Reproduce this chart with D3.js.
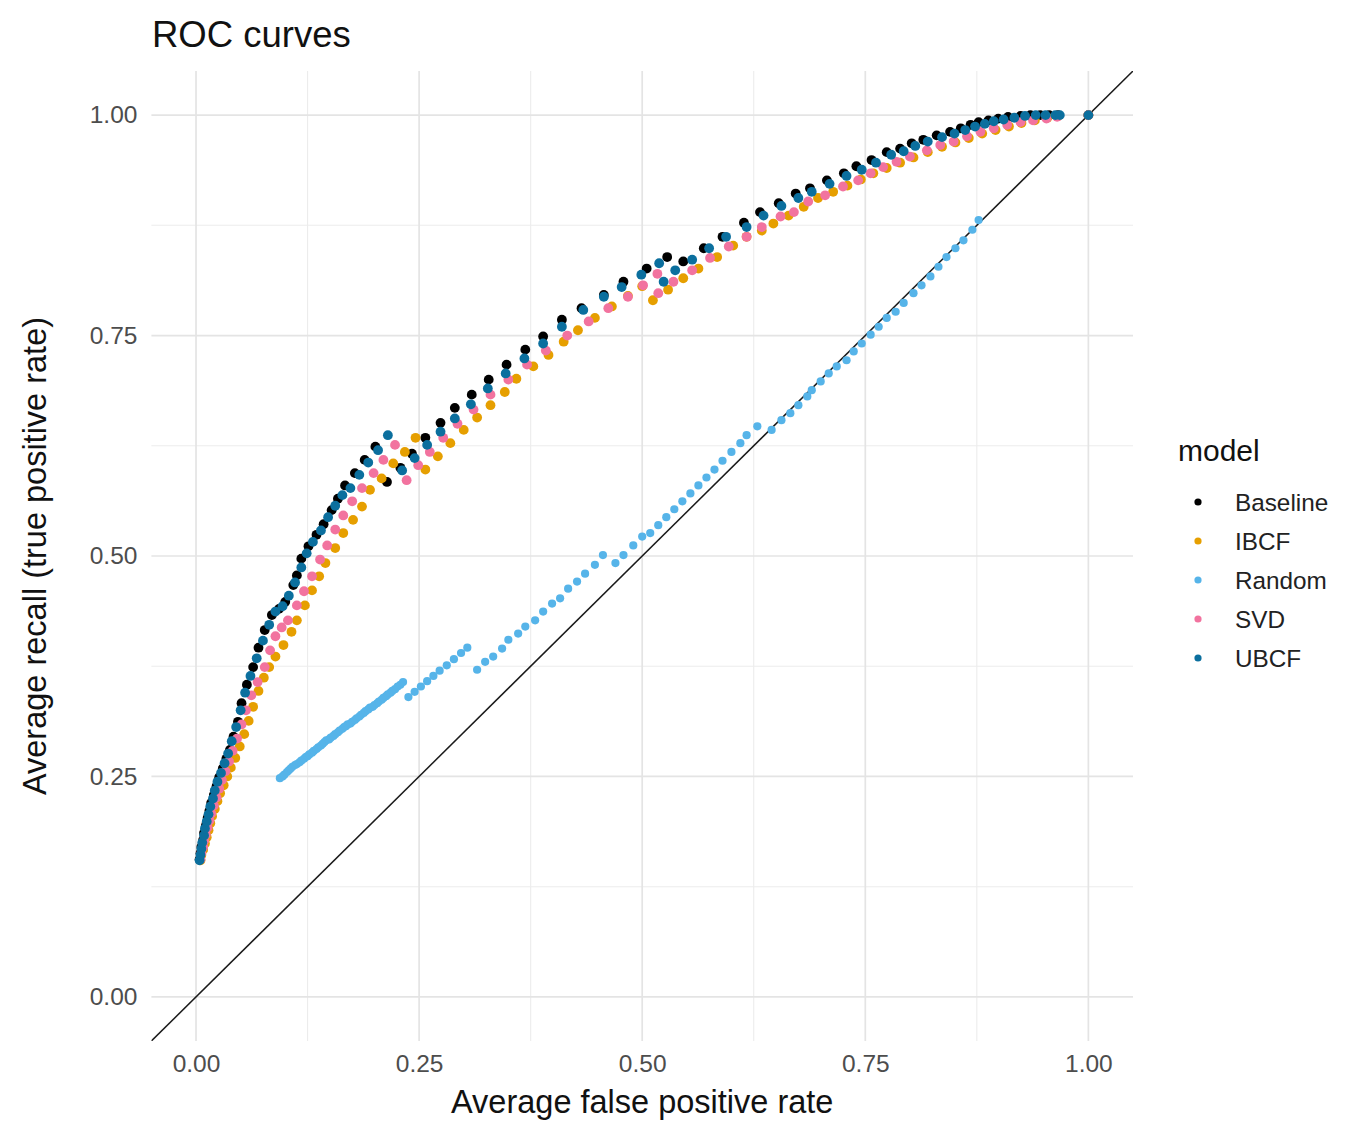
<!DOCTYPE html>
<html>
<head>
<meta charset="utf-8">
<script src="https://cdn.jsdelivr.net/npm/d3@7"></script>
<style>
  body { margin: 0; background: #fff; }
  text { font-family: "Liberation Sans", Arial, sans-serif; }
</style>
</head>
<body>
<div id="chart"></div>
<script>
// Data
//= ================================
var models = ["Baseline", "IBCF", "Random", "SVD", "UBCF"];

var baselineFpr = [0.004, 0.005, 0.006, 0.008, 0.009, 0.011, 0.013, 0.015, 0.017, 0.020, 0.023, 0.026, 0.030, 0.034, 0.038, 0.042, 0.047, 0.051, 0.057, 0.064, 0.070, 0.077, 0.085, 0.093, 0.100, 0.109, 0.113, 0.118, 0.126, 0.135, 0.143, 0.152, 0.159, 0.167, 0.178, 0.189, 0.201, 0.214, 0.229, 0.242, 0.257, 0.274, 0.290, 0.309, 0.328, 0.348, 0.369, 0.389, 0.410, 0.432, 0.457, 0.479, 0.505, 0.528, 0.546, 0.569, 0.590, 0.614, 0.632, 0.653, 0.672, 0.688, 0.707, 0.726, 0.740, 0.757, 0.774, 0.789, 0.802, 0.815, 0.830, 0.845, 0.857, 0.868, 0.877, 0.888, 0.899, 0.910, 0.924, 0.935, 0.946, 0.956, 0.966, 1.000];
var baselineTpr = [0.156, 0.163, 0.170, 0.178, 0.186, 0.194, 0.203, 0.211, 0.220, 0.229, 0.239, 0.249, 0.259, 0.270, 0.280, 0.295, 0.312, 0.333, 0.354, 0.374, 0.396, 0.416, 0.433, 0.440, 0.448, 0.467, 0.478, 0.497, 0.511, 0.524, 0.536, 0.552, 0.565, 0.580, 0.594, 0.609, 0.624, 0.584, 0.600, 0.616, 0.634, 0.651, 0.668, 0.683, 0.700, 0.717, 0.734, 0.749, 0.768, 0.781, 0.796, 0.811, 0.826, 0.839, 0.834, 0.849, 0.862, 0.878, 0.890, 0.900, 0.911, 0.917, 0.926, 0.934, 0.942, 0.949, 0.958, 0.962, 0.968, 0.972, 0.977, 0.981, 0.985, 0.989, 0.992, 0.994, 0.996, 0.998, 0.999, 1.000, 1.000, 1.000, 1.000, 1.000];

var ibcfFpr = [0.005, 0.006, 0.008, 0.010, 0.012, 0.014, 0.016, 0.018, 0.021, 0.024, 0.027, 0.031, 0.035, 0.039, 0.044, 0.049, 0.054, 0.059, 0.064, 0.070, 0.076, 0.082, 0.089, 0.098, 0.107, 0.113, 0.122, 0.130, 0.138, 0.145, 0.156, 0.165, 0.176, 0.186, 0.195, 0.208, 0.221, 0.234, 0.246, 0.257, 0.271, 0.285, 0.300, 0.315, 0.330, 0.346, 0.359, 0.378, 0.395, 0.412, 0.428, 0.447, 0.466, 0.484, 0.500, 0.512, 0.529, 0.546, 0.563, 0.584, 0.602, 0.617, 0.634, 0.647, 0.664, 0.681, 0.697, 0.714, 0.730, 0.745, 0.759, 0.774, 0.789, 0.804, 0.820, 0.836, 0.851, 0.866, 0.881, 0.896, 0.911, 0.925, 0.940, 0.954, 0.966, 1.000];
var ibcfTpr = [0.155, 0.161, 0.167, 0.174, 0.181, 0.189, 0.197, 0.205, 0.213, 0.222, 0.231, 0.240, 0.250, 0.260, 0.271, 0.284, 0.298, 0.313, 0.329, 0.347, 0.362, 0.374, 0.386, 0.399, 0.414, 0.427, 0.444, 0.461, 0.477, 0.492, 0.509, 0.526, 0.541, 0.556, 0.575, 0.588, 0.605, 0.618, 0.634, 0.598, 0.613, 0.628, 0.643, 0.657, 0.671, 0.686, 0.701, 0.715, 0.728, 0.743, 0.756, 0.770, 0.783, 0.795, 0.806, 0.790, 0.802, 0.815, 0.826, 0.839, 0.852, 0.862, 0.869, 0.877, 0.886, 0.896, 0.906, 0.913, 0.920, 0.927, 0.934, 0.940, 0.946, 0.952, 0.958, 0.964, 0.969, 0.974, 0.979, 0.983, 0.987, 0.991, 0.994, 0.997, 0.999, 1.000];

var randomFpr = [0.094, 0.097, 0.099, 0.102, 0.104, 0.106, 0.108, 0.111, 0.113, 0.116, 0.118, 0.121, 0.123, 0.125, 0.127, 0.130, 0.132, 0.135, 0.137, 0.140, 0.142, 0.144, 0.146, 0.149, 0.151, 0.154, 0.156, 0.159, 0.161, 0.164, 0.166, 0.168, 0.170, 0.173, 0.175, 0.178, 0.180, 0.183, 0.185, 0.188, 0.190, 0.193, 0.195, 0.198, 0.200, 0.203, 0.205, 0.208, 0.210, 0.213, 0.215, 0.218, 0.220, 0.223, 0.226, 0.229, 0.232,
  0.238, 0.245, 0.252, 0.259, 0.266, 0.273, 0.281, 0.289, 0.297, 0.304,
  0.315, 0.324, 0.333, 0.343, 0.350, 0.361, 0.369, 0.380, 0.389, 0.399, 0.408, 0.417, 0.427, 0.436, 0.447, 0.456,
  0.470, 0.479, 0.490, 0.500, 0.509, 0.518, 0.527, 0.536, 0.545, 0.554, 0.563, 0.572, 0.581, 0.590, 0.600, 0.610, 0.617, 0.629,
  0.645, 0.656, 0.666, 0.675, 0.685, 0.690, 0.700, 0.709, 0.718, 0.729, 0.737, 0.746, 0.756, 0.765, 0.774, 0.784, 0.793, 0.804, 0.813, 0.823, 0.832, 0.841, 0.851, 0.860, 0.870, 0.877];
var randomTpr = [0.248, 0.250, 0.252, 0.255, 0.257, 0.259, 0.261, 0.263, 0.264, 0.266, 0.268, 0.270, 0.272, 0.273, 0.275, 0.277, 0.279, 0.281, 0.283, 0.285, 0.287, 0.289, 0.291, 0.292, 0.294, 0.296, 0.298, 0.300, 0.302, 0.304, 0.306, 0.307, 0.309, 0.310, 0.312, 0.314, 0.316, 0.318, 0.320, 0.322, 0.324, 0.326, 0.328, 0.329, 0.331, 0.333, 0.335, 0.337, 0.339, 0.341, 0.343, 0.345, 0.347, 0.349, 0.352, 0.354, 0.357,
  0.340, 0.346, 0.352, 0.358, 0.364, 0.370, 0.376, 0.383, 0.390, 0.396,
  0.371, 0.380, 0.386, 0.395, 0.405, 0.412, 0.420, 0.427, 0.437, 0.446, 0.452, 0.463, 0.471, 0.480, 0.490, 0.501,
  0.492, 0.501, 0.512, 0.522, 0.526, 0.535, 0.544, 0.553, 0.562, 0.571, 0.580, 0.589, 0.598, 0.608, 0.618, 0.628, 0.637, 0.647,
  0.643, 0.654, 0.662, 0.671, 0.681, 0.688, 0.698, 0.707, 0.715, 0.722, 0.732, 0.741, 0.751, 0.760, 0.770, 0.777, 0.787, 0.798, 0.807, 0.817, 0.828, 0.839, 0.849, 0.858, 0.870, 0.881];

var svdFpr = [0.005, 0.006, 0.008, 0.009, 0.011, 0.013, 0.015, 0.017, 0.020, 0.023, 0.026, 0.029, 0.033, 0.037, 0.041, 0.046, 0.051, 0.056, 0.062, 0.069, 0.077, 0.083, 0.089, 0.096, 0.103, 0.113, 0.121, 0.130, 0.139, 0.147, 0.156, 0.165, 0.175, 0.186, 0.199, 0.210, 0.223, 0.236, 0.249, 0.262, 0.277, 0.293, 0.311, 0.330, 0.350, 0.371, 0.392, 0.416, 0.440, 0.462, 0.484, 0.501, 0.517, 0.518, 0.535, 0.556, 0.576, 0.597, 0.617, 0.634, 0.655, 0.670, 0.686, 0.705, 0.725, 0.742, 0.756, 0.770, 0.785, 0.800, 0.819, 0.834, 0.849, 0.864, 0.879, 0.894, 0.909, 0.924, 0.938, 0.953, 0.965, 1.000];
var svdTpr = [0.156, 0.163, 0.170, 0.177, 0.184, 0.192, 0.200, 0.208, 0.217, 0.226, 0.236, 0.246, 0.256, 0.267, 0.279, 0.293, 0.309, 0.325, 0.342, 0.357, 0.374, 0.393, 0.409, 0.419, 0.427, 0.444, 0.460, 0.477, 0.496, 0.512, 0.530, 0.546, 0.562, 0.577, 0.594, 0.609, 0.626, 0.586, 0.603, 0.618, 0.634, 0.650, 0.666, 0.683, 0.700, 0.717, 0.733, 0.750, 0.766, 0.781, 0.794, 0.807, 0.820, 0.798, 0.811, 0.824, 0.838, 0.851, 0.862, 0.873, 0.885, 0.890, 0.902, 0.909, 0.919, 0.926, 0.934, 0.941, 0.947, 0.953, 0.960, 0.966, 0.970, 0.976, 0.981, 0.985, 0.989, 0.992, 0.994, 0.996, 0.998, 1.000];

var ubcfFpr = [0.004, 0.005, 0.006, 0.007, 0.009, 0.010, 0.012, 0.014, 0.016, 0.019, 0.021, 0.024, 0.028, 0.032, 0.036, 0.040, 0.045, 0.050, 0.055, 0.061, 0.068, 0.075, 0.082, 0.089, 0.097, 0.104, 0.111, 0.118, 0.124, 0.131, 0.140, 0.148, 0.156, 0.164, 0.173, 0.183, 0.193, 0.204, 0.215, 0.231, 0.245, 0.259, 0.274, 0.290, 0.308, 0.327, 0.347, 0.368, 0.389, 0.410, 0.434, 0.457, 0.477, 0.499, 0.519, 0.524, 0.537, 0.556, 0.575, 0.594, 0.617, 0.636, 0.656, 0.675, 0.690, 0.710, 0.729, 0.746, 0.762, 0.779, 0.793, 0.806, 0.820, 0.836, 0.850, 0.862, 0.873, 0.884, 0.894, 0.905, 0.917, 0.929, 0.941, 0.952, 0.963, 0.968, 1.000];
var ubcfTpr = [0.155, 0.161, 0.168, 0.175, 0.183, 0.191, 0.199, 0.207, 0.216, 0.225, 0.234, 0.244, 0.254, 0.265, 0.276, 0.290, 0.306, 0.325, 0.345, 0.364, 0.384, 0.404, 0.422, 0.437, 0.443, 0.455, 0.470, 0.487, 0.503, 0.516, 0.529, 0.544, 0.557, 0.569, 0.577, 0.592, 0.606, 0.620, 0.637, 0.597, 0.611, 0.626, 0.641, 0.656, 0.672, 0.690, 0.707, 0.724, 0.741, 0.760, 0.779, 0.794, 0.805, 0.819, 0.832, 0.811, 0.824, 0.836, 0.849, 0.862, 0.873, 0.886, 0.897, 0.906, 0.913, 0.922, 0.931, 0.938, 0.946, 0.955, 0.959, 0.965, 0.970, 0.975, 0.979, 0.983, 0.987, 0.990, 0.993, 0.995, 0.997, 0.999, 1.000, 1.000, 1.000, 1.000, 1.000];

var xTicks = [0, 0.25, 0.5, 0.75, 1];
var yTicks = [0, 0.25, 0.5, 0.75, 1];
var minorTicks = [0.125, 0.375, 0.625, 0.875];

// model -> colour
var palette = ["#000000", "#E69F00", "#56B4E9", "#F2739F", "#0B6F9E"];

// Set up chart
//= ================================
var svgWidth = 1346;
var svgHeight = 1129;

var margin = {
  top: 71,
  right: 213,
  bottom: 88,
  left: 151.4
};

var width = svgWidth - margin.left - margin.right;
var height = svgHeight - margin.top - margin.bottom;

var svg = d3.select("#chart")
  .append("svg")
  .attr("width", svgWidth)
  .attr("height", svgHeight);

var chartGroup = svg.append("g")
  .attr("transform", `translate(${margin.left}, ${margin.top})`);

// build the point table from the arrays
var fprs = [baselineFpr, ibcfFpr, randomFpr, svdFpr, ubcfFpr];
var tprs = [baselineTpr, ibcfTpr, randomTpr, svdTpr, ubcfTpr];
var rocData = [];
models.forEach(function(m, i) {
  fprs[i].forEach(function(f, j) {
    rocData.push({model: m, fpr: f, tpr: tprs[i][j]});
  });
});

// create scales
var xLinearScale = d3.scaleLinear()
  .domain([-0.05, 1.05])
  .range([0, width]);

var yLinearScale = d3.scaleLinear()
  .domain([-0.05, 1.05])
  .range([height, 0]);

var colorScale = d3.scaleOrdinal()
  .domain(models)
  .range(palette);

// grid lines
chartGroup.selectAll(".vminor")
  .data(minorTicks)
  .enter()
  .append("line")
  .attr("x1", d => xLinearScale(d))
  .attr("x2", d => xLinearScale(d))
  .attr("y1", 0)
  .attr("y2", height)
  .attr("stroke", "#ececec")
  .attr("stroke-width", 1.1);

chartGroup.selectAll(".hminor")
  .data(minorTicks)
  .enter()
  .append("line")
  .attr("x1", 0)
  .attr("x2", width)
  .attr("y1", d => yLinearScale(d))
  .attr("y2", d => yLinearScale(d))
  .attr("stroke", "#ececec")
  .attr("stroke-width", 1.1);

chartGroup.selectAll(".vmajor")
  .data(xTicks)
  .enter()
  .append("line")
  .attr("x1", d => xLinearScale(d))
  .attr("x2", d => xLinearScale(d))
  .attr("y1", 0)
  .attr("y2", height)
  .attr("stroke", "#e4e4e4")
  .attr("stroke-width", 1.7);

chartGroup.selectAll(".hmajor")
  .data(yTicks)
  .enter()
  .append("line")
  .attr("x1", 0)
  .attr("x2", width)
  .attr("y1", d => yLinearScale(d))
  .attr("y2", d => yLinearScale(d))
  .attr("stroke", "#e4e4e4")
  .attr("stroke-width", 1.7);

// Create axis functions (no domain line, no ticks, like theme_minimal)
var bottomAxis = d3.axisBottom(xLinearScale)
  .tickValues(xTicks)
  .tickSize(0)
  .tickPadding(14)
  .tickFormat(d3.format(".2f"));
var leftAxis = d3.axisLeft(yLinearScale)
  .tickValues(yTicks)
  .tickSize(0)
  .tickPadding(14)
  .tickFormat(d3.format(".2f"));

var xAxisG = chartGroup.append("g")
  .attr("transform", `translate(0, ${height})`)
  .call(bottomAxis);

var yAxisG = chartGroup.append("g")
  .call(leftAxis);

[xAxisG, yAxisG].forEach(function(g) {
  g.select(".domain").remove();
  g.selectAll("text")
    .attr("font-family", "'Liberation Sans', Arial, sans-serif")
    .attr("font-size", "24.5px")
    .attr("fill", "#4d4d4d");
});

// diagonal reference line, clipped to the panel
svg.append("clipPath")
  .attr("id", "panel")
  .append("rect")
  .attr("width", width)
  .attr("height", height);

chartGroup.append("line")
  .attr("clip-path", "url(#panel)")
  .attr("x1", xLinearScale(-0.05))
  .attr("y1", yLinearScale(-0.05))
  .attr("x2", xLinearScale(1.05))
  .attr("y2", yLinearScale(1.05))
  .attr("stroke", "#1a1a1a")
  .attr("stroke-width", 1.5);

// Create the scatter chart
chartGroup.selectAll("circle.pt")
  .data(rocData)
  .enter()
  .append("circle")
  .attr("class", "pt")
  .attr("cx", d => xLinearScale(d.fpr))
  .attr("cy", d => yLinearScale(d.tpr))
  .attr("r", d => d.model === "Random" ? 4.1 : 4.9)
  .attr("fill", d => colorScale(d.model));

// Create axes labels
chartGroup.append("text")
  .attr("transform", "rotate(-90)")
  .attr("y", -margin.left + 46)
  .attr("x", -yLinearScale(0.5))
  .attr("text-anchor", "middle")
  .attr("font-size", "32.5px")
  .attr("fill", "#111")
  .text("Average recall (true positive rate)");

chartGroup.append("text")
  .attr("x", xLinearScale(0.5))
  .attr("y", height + 72)
  .attr("text-anchor", "middle")
  .attr("font-size", "32.5px")
  .attr("fill", "#111")
  .text("Average false positive rate");

// title
svg.append("text")
  .attr("x", 152)
  .attr("y", 47)
  .attr("font-size", "36.5px")
  .attr("fill", "#111")
  .text("ROC curves");

// legend
var legend = svg.append("g")
  .attr("transform", "translate(1178, 0)");

legend.append("text")
  .attr("x", 0)
  .attr("y", 461)
  .attr("font-size", "30px")
  .attr("fill", "#111")
  .text("model");

var legendItems = legend.selectAll(".item")
  .data(models)
  .enter()
  .append("g")
  .attr("transform", (d, i) => `translate(0, ${502 + i * 39})`);

legendItems.append("circle")
  .attr("cx", 20)
  .attr("cy", 0)
  .attr("r", 3.6)
  .attr("fill", d => colorScale(d));

legendItems.append("text")
  .attr("x", 57)
  .attr("y", 0)
  .attr("dy", "0.35em")
  .attr("font-size", "24.3px")
  .attr("fill", "#222")
  .text(d => d);
</script>
</body>
</html>
